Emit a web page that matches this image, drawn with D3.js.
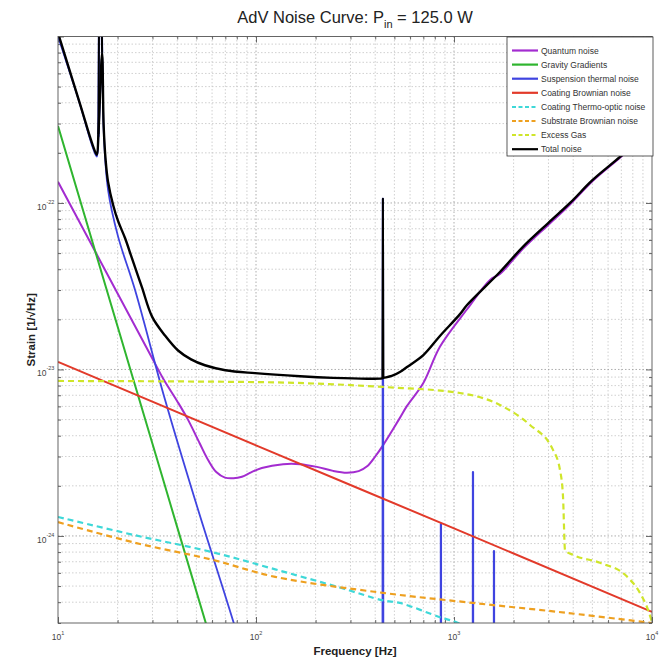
<!DOCTYPE html>
<html>
<head>
<meta charset="utf-8">
<script src="https://cdn.jsdelivr.net/npm/d3@7"></script>
<style>
  body { margin: 0; background: #fff; }
  svg { font-family: "Liberation Sans", Arial, sans-serif; }
</style>
</head>
<body>
<svg id="chart" width="664" height="663"></svg>
<script>
// values (frequency in Hz, strain in 1/sqrt(Hz))
const quantumFreq = [10, 20, 30, 34, 40, 45.4, 52, 57.3, 63, 69.7, 77, 84.9, 95, 107, 137, 167, 203, 245, 288, 330, 364, 400, 438, 485, 533, 579, 700, 849, 1164, 1520, 1706, 2228, 3000, 3855, 5000, 6890, 10000];
const quantumStrain = [1.34e-22, 2.86e-23, 1.16e-23, 8.8e-24, 6.45e-24, 4.98e-24, 3.59e-24, 2.86e-24, 2.42e-24, 2.24e-24, 2.22e-24, 2.27e-24, 2.42e-24, 2.56e-24, 2.7e-24, 2.7e-24, 2.6e-24, 2.46e-24, 2.4e-24, 2.45e-24, 2.62e-24, 3.0e-24, 3.5e-24, 4.25e-24, 5.12e-24, 6.04e-24, 8.3e-24, 1.37e-23, 2.3e-23, 3.45e-23, 3.75e-23, 5.3e-23, 7.4e-23, 9.8e-23, 1.35e-22, 1.87e-22, 2.75e-22];

const gravityFreq = [10, 20, 30, 40, 56];
const gravityStrain = [2.9e-22, 1.81e-23, 3.58e-24, 1.13e-24, 2.95e-25];

const suspFreq = [10, 12.9, 15.0, 15.7, 16.0, 16.3, 16.7, 17.0, 17.9, 20.1, 24.5, 34.7, 50, 78.3, 120, 200, 300, 435, 437.5, 440, 600, 855, 859, 863, 1000, 1241, 1247, 1253, 1400, 1585, 1592, 1599, 3000, 10000];
const suspStrain = [1.0e-21, 3.93e-22, 2.15e-22, 1.9e-22, 2.5e-22, 1.5e-20, 8e-22, 2.8e-22, 1.2e-22, 6.3e-23, 3.0e-23, 6.6e-24, 1.55e-24, 2.84e-25, 5e-26, 6.5e-27, 1.3e-27, 3e-28, 1.06e-22, 3e-28, 8e-29, 2e-29, 1.18e-24, 2e-29, 1e-29, 5e-30, 2.42e-24, 5e-30, 3e-30, 2e-30, 8.1e-25, 2e-30, 1e-31, 1e-33];
const suspPeaks = [16.3, 437.5, 859, 1247, 1592];

const coatBrFreq = [10, 100, 1000, 10000];
const coatBrStrain = [1.11e-23, 3.5e-24, 1.11e-24, 3.5e-25];

const coatToFreq = [10, 24.5, 60, 125, 265, 438, 533, 849, 1035, 1500, 3000];
const coatToStrain = [1.3e-24, 1.01e-24, 8e-25, 6.3e-25, 4.9e-25, 4.1e-25, 3.96e-25, 3.25e-25, 3.02e-25, 2.4e-25, 1.2e-25];

const substrateFreq = [10, 24.5, 60, 125, 438, 1247, 3723, 10000];
const substrateStrain = [1.21e-24, 9.1e-25, 7.2e-25, 5.68e-25, 4.55e-25, 3.96e-25, 3.45e-25, 3.0e-25];

const gasFreq = [10, 99, 438, 1072, 1706, 2420, 3162, 3430, 3554, 3637, 3990, 5460, 7480, 8690, 9550, 10000];
const gasStrain = [8.53e-24, 8.4e-24, 7.85e-24, 7.22e-24, 6.12e-24, 4.64e-24, 3.29e-24, 2.49e-24, 1.71e-24, 8.2e-25, 7.7e-25, 6.9e-25, 5.7e-25, 4.55e-25, 3.6e-25, 3.04e-25];

const totalFreq = [10, 12.9, 15.0, 15.7, 16.0, 16.3, 16.7, 17.0, 17.4, 17.9, 19.0, 20.1, 21.8, 23.6, 26.5, 29.9, 34.7, 40.4, 47, 55.2, 70, 98.9, 167, 245, 364, 435, 437.5, 440, 485, 533, 579, 700, 849, 1072, 1164, 1706, 2228, 3000, 3855, 5000, 6890, 10000];
const totalStrain = [1.05e-21, 3.95e-22, 2.21e-22, 1.95e-22, 2.6e-22, 1.5e-20, 8e-22, 2.94e-22, 1.81e-22, 1.34e-22, 9.7e-23, 7.8e-23, 6.16e-23, 4.68e-23, 3.13e-23, 2.07e-23, 1.6e-23, 1.3e-23, 1.15e-23, 1.06e-23, 9.9e-24, 9.5e-24, 9.1e-24, 8.9e-24, 8.8e-24, 8.85e-24, 1.06e-22, 8.9e-24, 9.14e-24, 9.66e-24, 1.035e-23, 1.22e-23, 1.59e-23, 2.15e-23, 2.44e-23, 3.85e-23, 5.45e-23, 7.6e-23, 1.0e-22, 1.37e-22, 1.89e-22, 2.8e-22];
const totalPeaks = [16.3, 437.5];

const seriesNames = ["Quantum noise", "Gravity Gradients", "Suspension thermal noise", "Coating Brownian noise", "Coating Thermo-optic noise", "Substrate Brownian noise", "Excess Gas", "Total noise"];

const xMajorTicks = [10, 100, 1000, 10000];
const xTickExps = ["1", "2", "3", "4"];
const yMajorTicks = [1e-24, 1e-23, 1e-22];
const yTickExps = ["-24", "-23", "-22"];

const smooth = d3.curveCatmullRom.alpha(0.5);
const mono = d3.curveMonotoneX;

const series = [
  { name: seriesNames[0], f: quantumFreq, h: quantumStrain, color: "#a32cd0", w: 2, dash: null, curve: smooth, peaks: [] },
  { name: seriesNames[1], f: gravityFreq, h: gravityStrain, color: "#2fb52f", w: 2, dash: null, curve: mono, peaks: [] },
  { name: seriesNames[2], f: suspFreq, h: suspStrain, color: "#3f44e0", w: 1.8, dash: null, curve: smooth, peaks: suspPeaks },
  { name: seriesNames[3], f: coatBrFreq, h: coatBrStrain, color: "#e23a2a", w: 2, dash: null, curve: mono, peaks: [] },
  { name: seriesNames[4], f: coatToFreq, h: coatToStrain, color: "#3ed8d8", w: 2.2, dash: "6,4", curve: smooth, peaks: [] },
  { name: seriesNames[5], f: substrateFreq, h: substrateStrain, color: "#eea020", w: 2.2, dash: "6,4", curve: smooth, peaks: [] },
  { name: seriesNames[6], f: gasFreq, h: gasStrain, color: "#cfe52a", w: 2.2, dash: "6,4", curve: mono, peaks: [] },
  { name: seriesNames[7], f: totalFreq, h: totalStrain, color: "#000000", w: 2.4, dash: null, curve: smooth, peaks: totalPeaks }
];

const svg = d3.select("#chart");
const pLeft = 58, pRight = 652, pTop = 36.5, pBottom = 623;

const x = d3.scaleLog().domain([10, 10000]).range([pLeft, pRight]);
const y = d3.scaleLog().domain([3e-25, 1e-21]).range([pBottom, pTop]);

// title
const title = svg.append("text")
  .attr("x", (pLeft + pRight) / 2)
  .attr("y", 23)
  .attr("text-anchor", "middle")
  .style("font-size", "16.5px")
  .style("fill", "#222");
title.append("tspan").text("AdV Noise Curve: P");
title.append("tspan").attr("dy", 5).style("font-size", "11px").text("in");
title.append("tspan").attr("dy", -5).text(" = 125.0 W");

// grid lines
const xGrid = [];
for (let d = 10; d < 10000; d *= 10) for (let k = 1; k < 10; k++) xGrid.push(d * k);
xGrid.push(10000);
const yGrid = [];
for (let d = 1e-25; d < 1e-21; d *= 10) for (let k = 1; k < 10; k++) {
  const v = d * k;
  if (v >= 2.99e-25 && v <= 1.01e-21) yGrid.push(v);
}
yGrid.push(1e-21);

const isMajX = d => xMajorTicks.some(t => Math.abs(t - d) / t < 1e-6);
const isMajY = d => yMajorTicks.concat([1e-21]).some(t => Math.abs(t - d) / t < 1e-6);

const grid = svg.append("g");
grid.selectAll("line.vx")
  .data(xGrid.filter(v => v > 10.01 && v < 9999))
  .enter().append("line")
  .attr("x1", d => x(d)).attr("x2", d => x(d))
  .attr("y1", pTop).attr("y2", pBottom)
  .attr("stroke", d => isMajX(d) ? "#999" : "#c4c4c4")
  .attr("stroke-width", 0.8)
  .attr("stroke-dasharray", "1.5,2");
grid.selectAll("line.hy")
  .data(yGrid.filter(v => v > 3.01e-25 && v < 0.99e-21))
  .enter().append("line")
  .attr("x1", pLeft).attr("x2", pRight)
  .attr("y1", d => y(d)).attr("y2", d => y(d))
  .attr("stroke", d => isMajY(d) ? "#999" : "#c4c4c4")
  .attr("stroke-width", 0.8)
  .attr("stroke-dasharray", "1.5,2");

// ticks on all four sides, pointing inward
const tickColor = "#444";
function addTicks(axis, tx, ty) {
  const g = svg.append("g").attr("transform", `translate(${tx},${ty})`).call(axis);
  g.select(".domain").remove();
  g.selectAll("text").remove();
  g.selectAll("line").attr("stroke", tickColor).attr("stroke-width", 0.8);
}
addTicks(d3.axisBottom(x).tickValues(xGrid).tickSizeOuter(0).tickFormat(""), 0, pBottom);
addTicks(d3.axisTop(x).tickValues(xGrid).tickSizeOuter(0).tickFormat(""), 0, pTop);
addTicks(d3.axisLeft(y).tickValues(yGrid).tickSizeOuter(0).tickFormat(""), pLeft, 0);
addTicks(d3.axisRight(y).tickValues(yGrid).tickSizeOuter(0).tickFormat(""), pRight, 0);
svg.selectAll(".tick line").each(function(d) {
  const sel = d3.select(this);
  const maj = d > 1 ? isMajX(d) : isMajY(d);
  const len = maj ? 6 : 3;
  if (sel.attr("y2") !== null && +sel.attr("y2") !== 0) sel.attr("y2", +sel.attr("y2") > 0 ? -len : len);
  if (sel.attr("x2") !== null && +sel.attr("x2") !== 0) sel.attr("x2", +sel.attr("x2") > 0 ? -len : len);
});

// tick labels
xMajorTicks.forEach((v, i) => {
  const t = svg.append("text").attr("x", x(v)).attr("y", 640)
    .attr("text-anchor", "middle").style("font-size", "8.5px").style("fill", "#444");
  t.append("tspan").text("10");
  t.append("tspan").attr("dy", -5).style("font-size", "5.5px").text(xTickExps[i]);
});
yMajorTicks.forEach((v, i) => {
  const t = svg.append("text").attr("x", 37).attr("y", y(v) + 7)
    .style("font-size", "8.5px").style("fill", "#444");
  t.append("tspan").text("10");
  t.append("tspan").attr("dy", -6).style("font-size", "5.5px").text(yTickExps[i]);
});

// axis titles
svg.append("text")
  .attr("x", (pLeft + pRight) / 2).attr("y", 655)
  .attr("text-anchor", "middle")
  .style("font-size", "11.5px").style("font-weight", "bold").style("fill", "#222")
  .text("Frequency [Hz]");
svg.append("text")
  .attr("transform", `translate(35,${(pTop + pBottom) / 2}) rotate(-90)`)
  .attr("text-anchor", "middle")
  .style("font-size", "11.5px").style("font-weight", "bold").style("fill", "#222")
  .text("Strain [1/\u221AHz]");

// curves
svg.append("clipPath").attr("id", "plotClip")
  .append("rect").attr("x", pLeft).attr("y", pTop).attr("width", pRight - pLeft).attr("height", pBottom - pTop);

const curves = svg.append("g").attr("clip-path", "url(#plotClip)");
series.forEach(s => {
  const pts = s.f.map((f, i) => [f, s.h[i]]);
  const isPeak = p => s.peaks.includes(p[0]);
  const line = d3.line()
    .x(d => x(d[0]))
    .y(d => y(d[1]))
    .curve(s.curve);
  const g = curves.append("g")
    .attr("fill", "none")
    .attr("stroke", s.color)
    .attr("stroke-dasharray", s.dash)
    .attr("stroke-linejoin", "round");
  g.append("path")
    .datum(pts.filter(p => !isPeak(p)))
    .attr("d", line)
    .attr("stroke-width", s.w);
  // narrow resonances drawn as straight up-and-down segments
  const straight = d3.line().x(d => x(d[0])).y(d => y(d[1]));
  pts.forEach((p, i) => {
    if (!isPeak(p)) return;
    g.append("path")
      .datum([pts[i - 1], p, pts[i + 1]])
      .attr("d", straight)
      .attr("stroke-width", s.color === "#000000" ? 2 : 2.2);
  });
});

// frame
svg.append("rect")
  .attr("x", pLeft).attr("y", pTop)
  .attr("width", pRight - pLeft).attr("height", pBottom - pTop)
  .attr("fill", "none").attr("stroke", "#555").attr("stroke-width", 0.9);

// legend
const lg = svg.append("g").attr("transform", "translate(507,37)");
lg.append("rect").attr("width", 146).attr("height", 119)
  .attr("fill", "#fff").attr("stroke", "#333").attr("stroke-width", 0.8);
series.forEach((s, i) => {
  const yy = 13.5 + i * 14.1;
  lg.append("line").attr("x1", 5).attr("x2", 31).attr("y1", yy).attr("y2", yy)
    .attr("stroke", s.color).attr("stroke-width", s.dash ? 2 : 2.2)
    .attr("stroke-dasharray", s.dash ? "4,2.5" : null);
  lg.append("text").attr("x", 34).attr("y", yy + 3)
    .style("font-size", "8.5px").style("fill", "#333")
    .text(s.name);
});
</script>
</body>
</html>
